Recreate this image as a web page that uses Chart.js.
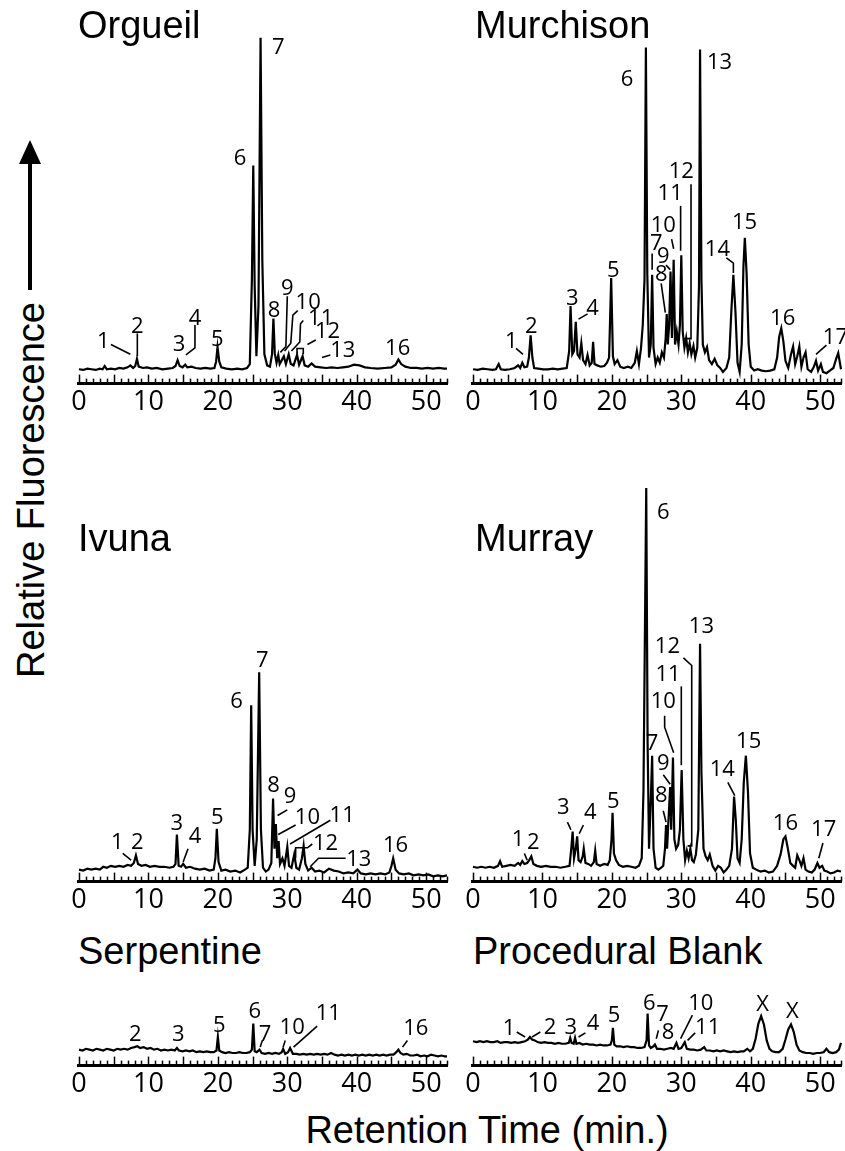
<!DOCTYPE html>
<html>
<head>
<meta charset="utf-8">
<script src="https://cdn.jsdelivr.net/npm/chart.js@4.4.1/dist/chart.umd.min.js"></script>
<style>
body{margin:0;background:#fff;width:845px;height:1151px;position:relative;overflow:hidden;font-family:"Liberation Sans",Arial,sans-serif;color:#000;}
canvas{position:absolute;}
.ttl{position:absolute;font-size:38px;line-height:38px;white-space:nowrap;}
</style>
</head>
<body>
<script>
// retention time (min) , relative fluorescence (arbitrary units)
var orgueil = [[0,22],[0.6,21],[1.2,23],[1.8,22],[2.4,21],[3.0,23],[3.4,22],[3.7,27],[4.0,22],[4.6,23],[5.2,22],[5.8,24],[6.4,23],[7.0,25],[7.4,28],[7.8,24],[8.1,27],[8.35,38],[8.6,26],[9.2,24],[9.8,25],[10.5,23],[11.2,24],[12.0,22],[12.8,23],[13.5,24],[13.9,27],[14.2,36],[14.5,27],[14.9,25],[15.3,29],[15.6,25],[16.2,26],[16.8,24],[17.5,23],[18.2,24],[18.9,23],[19.5,24],[19.75,34],[19.95,56],[20.2,34],[20.5,25],[21.2,23],[22.0,22],[22.8,23],[23.5,22],[24.2,24],[24.6,30],[24.9,160],[25.1,335],[25.3,150],[25.55,42],[25.85,120],[26.15,531],[26.4,190],[26.7,45],[27.1,28],[27.5,26],[27.8,45],[28.0,100],[28.2,46],[28.45,32],[28.7,44],[28.9,30],[29.2,36],[29.5,42],[29.8,30],[30.2,45],[30.5,30],[30.9,28],[31.4,44],[31.7,29],[32.2,42],[32.5,28],[33.0,26],[33.5,31],[34.0,26],[34.8,25],[35.6,24],[36.4,25],[37.2,24],[38.0,25],[38.8,26],[39.6,29],[40.4,28],[41.2,25],[42.0,24],[43.0,23],[44.0,24],[45.0,25],[45.6,29],[46.0,37],[46.4,30],[47.0,26],[47.8,24],[48.6,24],[49.4,23],[50.2,24],[51.0,23],[51.8,24],[52.6,23],[53,23]];

var murchison = [[0,22],[0.7,21],[1.4,23],[2.1,22],[2.8,21],[3.3,22],[3.7,30],[4.0,22],[4.6,21],[5.3,22],[6.0,24],[6.5,28],[6.8,24],[7.1,32],[7.4,25],[7.8,26],[8.05,40],[8.3,74],[8.55,40],[8.8,24],[9.4,23],[10.1,22],[10.8,22],[11.5,23],[12.2,22],[12.9,23],[13.5,24],[13.85,50],[14.05,119],[14.3,45],[14.55,50],[14.8,95],[15.05,45],[15.35,40],[15.6,62],[15.85,36],[16.2,30],[16.5,44],[16.8,28],[17.1,32],[17.3,64],[17.5,30],[17.9,28],[18.4,26],[18.9,27],[19.3,32],[19.6,40],[19.9,162],[20.15,42],[20.4,30],[20.8,36],[21.2,26],[21.7,24],[22.3,26],[22.8,24],[23.3,32],[23.6,50],[23.9,30],[24.2,55],[24.45,90],[24.7,160],[24.9,516],[25.1,170],[25.35,40],[25.6,60],[25.8,167],[26.0,55],[26.3,30],[26.6,40],[26.9,32],[27.2,48],[27.5,40],[27.75,70],[27.9,107],[28.05,60],[28.25,90],[28.45,172],[28.65,70],[28.9,190],[29.1,60],[29.35,80],[29.6,60],[29.8,90],[30.0,197],[30.2,80],[30.45,55],[30.7,70],[30.95,48],[31.2,62],[31.45,45],[31.75,58],[32.0,40],[32.3,55],[32.55,150],[32.7,513],[32.9,160],[33.1,60],[33.4,48],[33.7,56],[34.0,36],[34.4,30],[34.8,38],[35.2,28],[35.6,24],[36.0,18],[36.5,24],[36.9,40],[37.2,110],[37.5,167],[37.8,110],[38.1,32],[38.4,18],[38.7,60],[38.95,180],[39.15,224],[39.4,170],[39.7,60],[40.0,26],[40.5,20],[41.0,22],[41.6,20],[42.2,19],[42.8,20],[43.4,22],[43.8,40],[44.1,72],[44.4,85],[44.7,65],[45.0,35],[45.4,24],[45.8,45],[46.1,57],[46.4,30],[46.7,42],[47.0,57],[47.3,26],[47.6,40],[47.9,48],[48.2,22],[48.7,18],[49.1,26],[49.4,35],[49.7,20],[50.1,30],[50.4,18],[50.9,16],[51.4,20],[51.9,24],[52.3,38],[52.6,47],[53,22]];

var ivuna = [[0,18],[0.6,17],[1.2,19],[1.8,18],[2.4,19],[3.0,18],[3.5,21],[4.0,20],[4.6,22],[5.2,21],[5.8,22],[6.4,21],[7.0,23],[7.5,22],[7.9,25],[8.2,33],[8.5,24],[9.0,22],[9.6,23],[10.2,21],[10.9,22],[11.6,21],[12.3,21],[13.0,20],[13.6,21],[13.9,24],[14.1,55],[14.35,22],[14.7,21],[15.0,24],[15.4,20],[16.0,21],[16.7,19],[17.4,18],[18.1,19],[18.8,17],[19.4,18],[19.65,30],[19.85,61],[20.1,26],[20.5,17],[21.1,18],[21.8,16],[22.5,17],[23.2,15],[23.9,18],[24.3,20],[24.6,60],[24.8,191],[25.0,60],[25.3,22],[25.6,50],[25.95,226],[26.2,60],[26.5,20],[26.9,16],[27.3,18],[27.7,25],[27.95,93],[28.15,40],[28.35,66],[28.55,30],[28.75,48],[28.95,24],[29.3,30],[29.6,22],[30.0,42],[30.25,22],[30.6,20],[31.0,34],[31.3,20],[31.7,18],[32.1,30],[32.35,43],[32.6,24],[33.0,17],[33.5,20],[34.0,16],[34.6,17],[35.3,15],[36.0,19],[36.7,17],[37.4,16],[38.1,14],[38.8,15],[39.5,14],[40.1,18],[40.6,14],[41.3,13],[42.0,14],[42.7,13],[43.4,14],[44.1,13],[44.7,15],[45.0,22],[45.25,30],[45.6,18],[46.1,14],[46.8,13],[47.5,14],[48.2,12],[48.9,13],[49.6,12],[50.3,13],[51.0,11],[51.7,12],[52.4,11],[53,12]];

var murray = [[0,21],[0.6,20],[1.2,21],[1.8,20],[2.4,21],[3.0,20],[3.6,22],[3.9,27],[4.2,21],[4.8,22],[5.4,23],[6.0,22],[6.5,25],[6.8,23],[7.1,27],[7.4,24],[7.8,25],[8.1,28],[8.4,32],[8.7,24],[9.2,22],[9.8,21],[10.5,22],[11.2,21],[11.9,21],[12.6,20],[13.3,21],[13.9,22],[14.15,40],[14.35,58],[14.55,30],[14.8,40],[15.0,53],[15.2,28],[15.5,26],[15.8,32],[15.95,40],[16.2,25],[16.6,24],[17.0,22],[17.4,26],[17.6,38],[17.8,24],[18.3,22],[18.9,24],[19.4,23],[19.7,28],[19.95,50],[20.1,78],[20.3,35],[20.6,28],[21.0,23],[21.6,21],[22.2,22],[22.8,21],[23.4,20],[23.9,22],[24.3,30],[24.55,100],[24.8,300],[24.95,420],[25.15,150],[25.35,40],[25.6,90],[25.8,138],[26.0,40],[26.3,20],[26.7,18],[27.1,20],[27.4,22],[27.65,40],[27.8,65],[27.95,40],[28.15,70],[28.4,105],[28.55,60],[28.8,136],[29.0,50],[29.25,40],[29.55,44],[29.8,60],[30.05,123],[30.3,50],[30.55,28],[30.8,38],[31.05,30],[31.3,40],[31.55,28],[31.8,26],[32.1,34],[32.45,60],[32.7,256],[32.9,120],[33.2,40],[33.5,32],[33.8,28],[34.1,34],[34.5,22],[34.9,17],[35.3,22],[35.7,20],[36.1,15],[36.5,18],[36.9,22],[37.3,40],[37.6,95],[37.85,70],[38.1,30],[38.4,25],[38.7,50],[39.0,110],[39.3,138],[39.6,100],[39.9,35],[40.3,20],[40.8,18],[41.4,16],[42.0,17],[42.6,15],[43.2,16],[43.8,22],[44.3,34],[44.7,50],[45.0,53],[45.3,42],[45.7,25],[46.1,22],[46.4,20],[46.7,33],[47.0,28],[47.3,22],[47.6,30],[47.9,18],[48.3,16],[48.8,15],[49.2,18],[49.6,25],[49.9,20],[50.3,22],[50.6,17],[51.0,16],[51.5,14],[52.0,15],[52.5,17],[53,16]];

var serpentine = [[0,19],[0.5,18],[1.0,20],[1.5,19],[2.0,18],[2.5,20],[3.0,19],[3.5,18],[4.0,20],[4.5,19],[5.0,18],[5.5,20],[6.0,19],[6.5,20],[7.0,19],[7.5,21],[8.0,22],[8.4,23],[8.8,21],[9.3,22],[9.8,20],[10.3,21],[10.8,19],[11.3,20],[11.8,18],[12.3,19],[12.8,18],[13.3,19],[13.8,18],[14.1,21],[14.4,18],[14.9,17],[15.4,18],[15.9,17],[16.4,18],[16.9,16],[17.4,17],[17.9,16],[18.4,17],[18.9,16],[19.4,16],[19.8,18],[20.0,34],[20.2,18],[20.6,16],[21.1,15],[21.6,16],[22.1,15],[22.6,15],[23.1,16],[23.6,15],[24.1,15],[24.6,16],[24.9,19],[25.1,50],[25.3,17],[25.6,16],[26.0,19],[26.3,15],[26.8,14],[27.3,15],[27.8,14],[28.3,15],[28.8,14],[29.2,16],[29.4,20],[29.7,14],[30.1,16],[30.4,21],[30.8,14],[31.3,14],[31.8,13],[32.3,14],[32.8,13],[33.3,14],[33.8,13],[34.3,14],[34.8,13],[35.3,14],[35.8,13],[36.3,15],[36.8,13],[37.3,12],[37.8,13],[38.3,12],[38.8,13],[39.3,12],[39.8,13],[40.3,12],[40.8,13],[41.3,12],[41.8,13],[42.3,12],[42.8,13],[43.3,12],[43.8,13],[44.3,12],[44.8,13],[45.3,13],[45.7,16],[46.0,19],[46.3,15],[46.7,13],[47.2,14],[47.7,12],[48.2,12],[48.7,13],[49.2,11],[49.7,12],[50.2,11],[50.7,13],[51.2,12],[51.7,11],[52.2,12],[52.7,11],[53,11]];

var blank = [[0,29],[0.5,28],[1.0,29],[1.5,28],[2.0,29],[2.5,28],[3.0,28],[3.5,29],[4.0,27],[4.5,28],[5.0,28],[5.5,27],[6.0,28],[6.5,27],[7.0,28],[7.5,29],[7.9,31],[8.2,34],[8.5,31],[8.9,30],[9.3,28],[9.8,27],[10.3,28],[10.8,27],[11.3,27],[11.8,26],[12.3,27],[12.8,26],[13.3,26],[13.8,27],[14.0,33],[14.2,27],[14.5,26],[14.7,33],[14.9,26],[15.3,27],[15.8,25],[16.3,26],[16.8,25],[17.3,25],[17.8,24],[18.3,25],[18.8,24],[19.3,24],[19.8,25],[20.0,30],[20.15,45],[20.35,25],[20.7,23],[21.2,23],[21.7,22],[22.2,23],[22.7,22],[23.2,22],[23.7,21],[24.2,21],[24.7,22],[25.0,30],[25.15,62],[25.35,24],[25.6,21],[26.0,23],[26.2,25],[26.5,20],[27.0,20],[27.5,19],[28.0,20],[28.5,21],[28.9,20],[29.3,27],[29.6,20],[30.0,21],[30.5,28],[30.8,20],[31.3,19],[31.8,19],[32.3,18],[32.8,19],[33.3,22],[33.6,18],[34.1,18],[34.6,17],[35.1,18],[35.6,17],[36.1,18],[36.6,17],[37.1,16],[37.6,17],[38.1,16],[38.6,17],[39.0,17],[39.5,20],[39.9,17],[40.3,20],[40.7,32],[41.1,50],[41.5,59],[41.9,49],[42.3,30],[42.7,20],[43.1,17],[43.6,16],[44.1,16],[44.6,20],[45.0,31],[45.4,43],[45.8,49],[46.2,40],[46.6,25],[47.0,18],[47.5,16],[48.0,15],[48.5,15],[49.0,14],[49.5,15],[50.0,15],[50.5,16],[50.9,20],[51.3,16],[51.8,15],[52.3,16],[52.7,19],[53,27]];

var tickLabels = [0,10,20,30,40,50];

// peak labels [text, t, value] and leader lines, in the same data units
var orgueilNotes = {
  labels:[['1',3.5,64],['2',8.4,87],['3',14.4,60],['4',16.7,100],['5',19.9,67],['6',23.2,345],['7',28.7,516],['8',28.1,112],['9',30.0,145],['10',33.0,124],['11',34.8,99],['12',35.8,79],['13',38.0,50],['16',45.9,54]],
  leaders:[[[4.6,60],[7.4,45]],[[8.4,77],[8.4,42]],[[16.7,90],[16.7,55],[15.4,44]],[[30.0,134],[29.8,57],[29.0,48]],[[31.5,112],[30.8,105],[30.5,62],[29.6,50]],[[32.3,97],[31.9,92],[31.8,64],[30.6,50]],[[34.1,67],[32.9,60]],[[31.4,46],[31.4,54],[32.3,54],[32.3,45]],[[36.2,44],[35.0,40]]]
};
var murchisonNotes = {
  labels:[['1',5.5,64],['2',8.4,87],['3',14.3,130],['4',17.2,115],['5',20.2,174],['6',22.2,467],['7',26.4,215],['8',27.1,167],['9',27.4,195],['10',27.4,242],['11',28.4,291],['12',30.0,326],['13',35.5,493],['14',35.2,205],['15',39.1,247],['16',44.6,99],['17',52.2,70]],
  leaders:[[[6.2,54],[7.2,45]],[[15.2,99],[16.5,107]],[[25.8,200],[25.8,175]],[[27.1,154],[27.7,109]],[[27.8,182],[28.4,175]],[[28.6,222],[28.9,207]],[[29.9,273],[29.9,204]],[[31.4,306],[31.4,69],[30.4,69]],[[36.5,193],[37.5,185],[37.5,170]],[[49.4,45],[50.9,59]]]
};
var ivunaNotes = {
  labels:[['1',5.5,46],['2',8.4,46],['3',14.1,66],['4',16.7,53],['5',19.9,73],['6',22.7,195],['7',26.4,238],['8',28.0,106],['9',30.4,95],['10',32.9,73],['11',37.9,75],['12',35.5,45],['13',40.3,28],['16',45.6,43]],
  leaders:[[[6.3,35],[7.5,28]],[[15.0,26],[15.7,40]],[[28.6,75],[30.0,81]],[[28.7,55],[31.2,65]],[[30.4,45],[36.2,70]],[[31.2,30],[31.2,41],[32.9,41],[33.6,45]],[[33.3,21],[34.5,30],[38.4,30]]]
};
var murrayNotes = {
  labels:[['1',6.5,50],['2',8.7,46],['3',13.0,83],['4',16.9,78],['5',20.2,90],['6',27.4,394],['7',25.8,151],['8',27.1,96],['9',27.4,130],['10',27.4,195],['11',28.1,223],['12',28.0,253],['13',32.9,274],['14',35.9,123],['15',39.7,153],['16',45.0,66],['17',50.5,60]],
  leaders:[[[7.4,35],[7.8,28]],[[13.6,68],[14.1,60]],[[15.3,56],[15.9,65]],[[27.4,80],[27.8,68]],[[27.4,118],[28.4,108]],[[27.6,180],[27.6,168],[28.9,141]],[[30.0,211],[30.0,128]],[[30.3,241],[31.5,233],[31.5,43],[30.9,43]],[[36.7,110],[37.7,96]],[[50.4,46],[49.8,30]]]
};
var serpentineNotes = {
  labels:[['2',8.1,37],['3',14.3,37],['5',20.2,47],['6',25.3,64],['7',26.8,37],['10',30.7,45],['11',35.9,62],['16',48.5,44]],
  leaders:[[[26.1,22],[26.4,30]],[[29.4,22],[29.7,30]],[[30.9,22],[34.3,47]],[[46.6,22],[47.3,30]]]
};
var blankNotes = {
  labels:[['1',5.2,44],['2',11.1,45],['3',14.1,45],['4',17.3,50],['5',20.3,59],['6',25.4,74],['7',27.3,60],['8',28.1,39],['10',32.8,74],['11',33.8,45],['X',41.7,72],['X',46.0,64]],
  leaders:[[[6.3,40],[7.5,34]],[[8.5,34],[9.7,40]],[[15.2,34],[16.2,39]],[[26.4,32],[26.7,42]],[[29.9,32],[31.6,60]],[[30.9,30],[32.0,39]]]
};

// ruler axis + peak labels
var extras = {
  id: 'extras',
  afterDatasetsDraw: function(chart, args, opts) {
    var ctx = chart.ctx, x = chart.scales.x, y = chart.scales.y;
    var ay = chart.chartArea.bottom;
    ctx.save();
    ctx.strokeStyle = '#000';
    ctx.lineWidth = 3;
    ctx.beginPath(); ctx.moveTo(x.left - 2, ay); ctx.lineTo(x.right + 1, ay); ctx.stroke();
    ctx.lineWidth = 1.5;
    for (var m = 0; m <= 53; m++) {
      var px = Math.round(x.getPixelForValue(m)) + 0.5;
      var len = (m % 5 === 0) ? 9 : 5;
      ctx.beginPath(); ctx.moveTo(px, ay); ctx.lineTo(px, ay - len); ctx.stroke();
    }
    ctx.lineWidth = 1.6;
    opts.leaders.forEach(function(path) {
      ctx.beginPath();
      path.forEach(function(p, i) {
        var a = x.getPixelForValue(p[0]), b = y.getPixelForValue(p[1]);
        if (i) ctx.lineTo(a, b); else ctx.moveTo(a, b);
      });
      ctx.stroke();
    });
    ctx.fillStyle = '#000';
    ctx.font = '22px "Open Sans"';
    ctx.textAlign = 'center';
    ctx.textBaseline = 'middle';
    opts.labels.forEach(function(l) {
      ctx.fillText(l[0], x.getPixelForValue(l[1]), y.getPixelForValue(l[2]));
    });
    ctx.restore();
  }
};

// lo = value sitting on the ruler, k = pixels per unit
function panel(trace, notes, left, axisY, plotH, lo, k) {
  var cv = document.createElement('canvas');
  cv.width = 388; cv.height = plotH + 40;
  cv.style.left = left + 'px';
  cv.style.top = (axisY - plotH) + 'px';
  document.body.appendChild(cv);
  var ch = new Chart(cv, {
    type: 'line',
    data: { datasets: [{
      data: trace.map(function(p){ return {x: p[0], y: p[1]}; }),
      borderColor: '#000', borderWidth: 2.2, pointRadius: 0, tension: 0, fill: false, clip: false
    }]},
    options: {
      responsive: false, animation: false, events: [],
      layout: { padding: { left: 16, right: 4, top: 0, bottom: 0 } },
      plugins: { legend: { display: false }, tooltip: { enabled: false }, extras: notes },
      scales: {
        x: { type: 'linear', min: 0, max: 53,
             grid: { display: false, drawTicks: false }, border: { display: false },
             afterBuildTicks: function(s){ s.ticks = tickLabels.map(function(v){ return {value: v}; }); },
             ticks: { color: '#000', padding: 3, maxRotation: 0, autoSkip: false,
                      font: { family: '"Open Sans"', size: 27 } } },
        y: { display: false, min: lo, max: lo + plotH / k }
      }
    },
    plugins: [extras]
  });
  var ca = ch.chartArea;
  ch.options.scales.y.max = lo + (ca.bottom - ca.top) / k;
  cv.style.top = (axisY - ca.bottom) + 'px';
  ch.update('none');
}

panel(orgueil, orgueilNotes, 63, 384, 380, 0, 0.653);
panel(murchison, murchisonNotes, 457, 384, 380, 0, 0.653);
panel(ivuna, ivunaNotes, 63, 882, 410, 5.4, 0.952);
panel(murray, murrayNotes, 457, 882, 410, 5.4, 0.952);
panel(serpentine, serpentineNotes, 63, 1066, 90, 0, 0.85);
panel(blank, blankNotes, 457, 1066, 90, 0, 0.85);

function title(txt, left, capCenter) {
  var d = document.createElement('div');
  d.className = 'ttl'; d.textContent = txt;
  d.style.left = left + 'px'; d.style.top = (capCenter - 19) + 'px';
  document.body.appendChild(d);
  return d;
}
title('Orgueil', 78, 25);
title('Murchison', 475, 25);
title('Ivuna', 78, 538);
title('Murray', 475, 538);
title('Serpentine', 78, 951);
title('Procedural Blank', 473, 951);
var xt = title('Retention Time (min.)', 487, 1130);
xt.style.transform = 'translateX(-50%)';
var yt = title('Relative Fluorescence', 31, 490);
yt.style.top = '471px';
yt.style.transform = 'translateX(-50%) rotate(-90deg)';
yt.style.transformOrigin = '50% 50%';
</script>
<svg width="60" height="320" style="position:absolute;left:0;top:0" >
  <line x1="30" y1="290" x2="30" y2="160" stroke="#000" stroke-width="4"/>
  <polygon points="30,140 19,164 41,164" fill="#000"/>
</svg>
</body>
</html>
